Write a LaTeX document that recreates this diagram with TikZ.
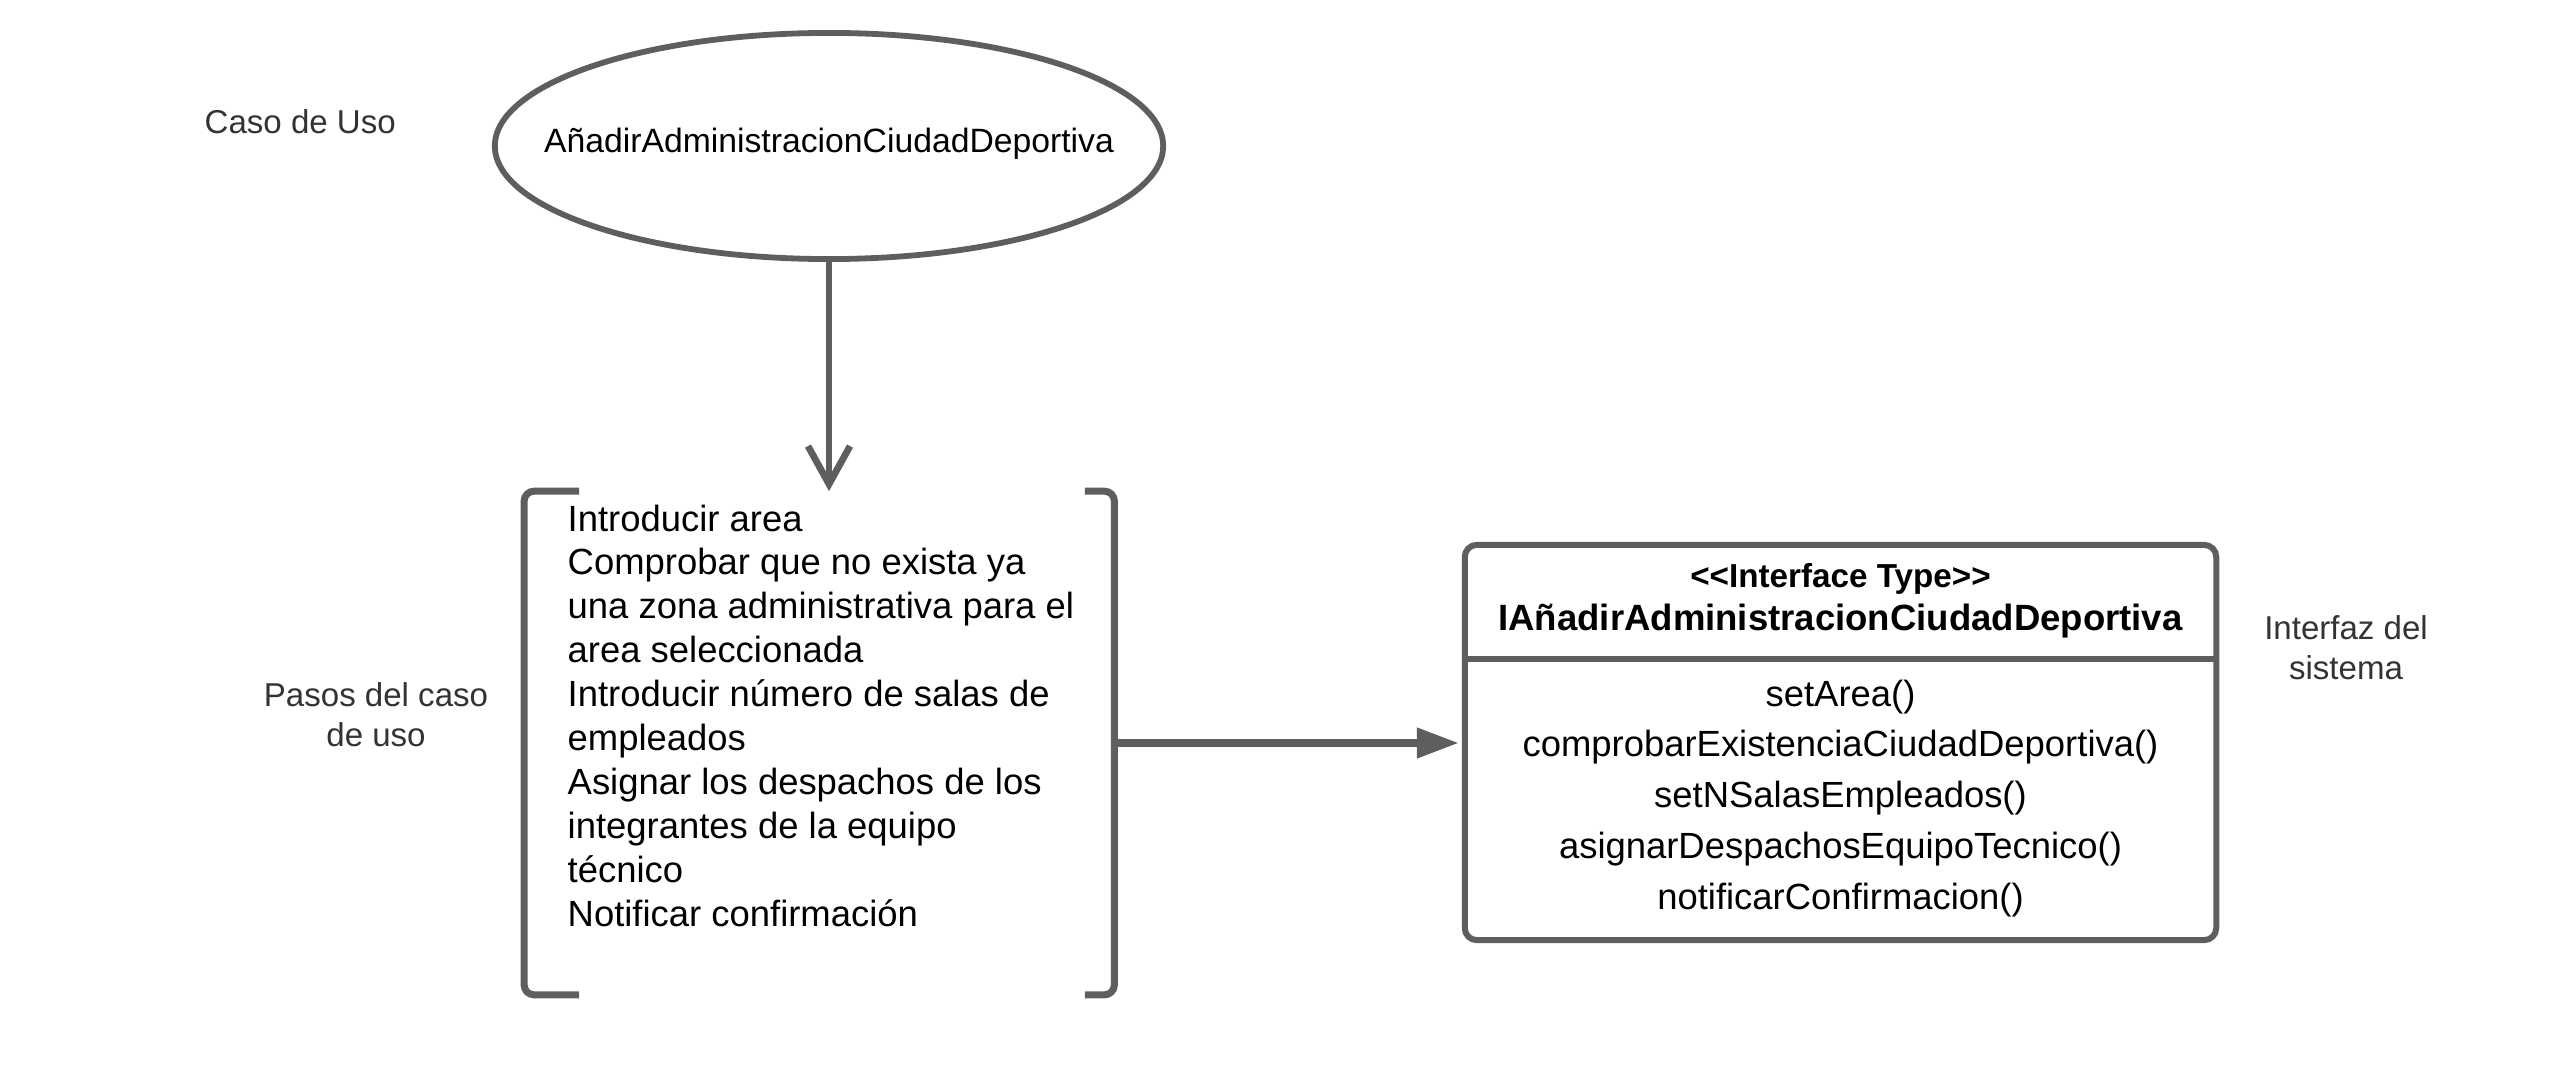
\documentclass[tikz,border=0pt]{standalone}
\usepackage{fontspec}
\setmainfont{Liberation Sans}
\usetikzlibrary{shapes.geometric,arrows.meta}
\definecolor{strk}{HTML}{5E5E5E}
\definecolor{lbl}{HTML}{333333}
\begin{document}
\begin{tikzpicture}[x=0.01cm,y=-0.01cm,
  side/.style={font=\fontsize{9.4pt}{11.3pt}\selectfont, text=lbl, inner sep=0, anchor=base},
  steptxt/.style={font=\fontsize{10.36pt}{12.4pt}\selectfont, inner sep=0, anchor=base west},
  meth/.style={font=\fontsize{10.36pt}{12.4pt}\selectfont, inner sep=0, anchor=base},
  conn/.style={draw=strk, line width=0.068cm},
  bracketline/.style={draw=strk, line width=0.07cm, rounded corners=0.1cm},
  usecase/.style={ellipse, draw=strk, line width=0.058cm, minimum width=6.68cm, minimum height=2.26cm, inner sep=0},
  ifacebox/.style={draw=strk, line width=0.06cm, rounded corners=0.12cm, minimum width=7.51cm, minimum height=3.95cm, inner sep=0}]
\useasboundingbox (0,0) rectangle (2552,1067);

% side labels
\node[side, anchor=base west] (lcaso) at (204,134) {Caso de Uso};
\node[side] (lpasos1) at (376,706) {Pasos del caso};
\node[side] (lpasos2) at (376,746) {de uso};
\node[side] (lint1) at (2346,639) {Interfaz del};
\node[side] (lint2) at (2346,679) {sistema};

% use case
\node[usecase] (uc) at (829,146) {};
\node[inner sep=0, anchor=base, font=\fontsize{9.59pt}{11.5pt}\selectfont] (uctext) at (829,153) {AñadirAdministracionCiudadDeportiva};

% steps bracket
\node[minimum width=5.885cm, minimum height=5.02cm, inner sep=0] (steps) at (819.25,743) {};
\draw[bracketline] ([xshift=0.55cm]steps.north west) -- (steps.north west) -- (steps.south west) -- ([xshift=0.55cm]steps.south west);
\draw[bracketline] ([xshift=-0.295cm]steps.north east) -- (steps.north east) -- (steps.south east) -- ([xshift=-0.295cm]steps.south east);

\node[steptxt] (s1) at (567,531) {Introducir area};
\node[steptxt] (s2) at (567,574.9) {Comprobar que no exista ya};
\node[steptxt] (s3) at (567,618.8) {una zona administrativa para el};
\node[steptxt] (s4) at (567,662.7) {area seleccionada};
\node[steptxt] (s5) at (567,706.6) {Introducir número de salas de};
\node[steptxt] (s6) at (567,750.5) {empleados};
\node[steptxt] (s7) at (567,794.4) {Asignar los despachos de los};
\node[steptxt] (s8) at (567,838.3) {integrantes de la equipo};
\node[steptxt] (s9) at (567,882.2) {técnico};
\node[steptxt] (s10) at (567,926.1) {Notificar confirmación};

% interface
\node[ifacebox] (iface) at (1840.5,742.5) {};
\draw[draw=strk, line width=0.06cm] (iface.west |- 0,658.5) coordinate (dl) -- (iface.east |- 0,658.5) coordinate (dr);
\node[inner sep=0, anchor=base, font=\fontsize{9.45pt}{11.3pt}\selectfont\bfseries] (itype) at (1840.5,587) {<\kern0pt<Interface Type>\kern0pt>};
\node[inner sep=0, anchor=base, font=\fontsize{10.39pt}{12.5pt}\selectfont\bfseries] (iname) at (1840.5,630) {IAñadirAdministracionCiudadDeportiva};
\node[meth] (m1) at (1840.5,706) {setArea()};
\node[meth] (m2) at (1840.5,756.8) {comprobarExistenciaCiudadDeportiva()};
\node[meth] (m3) at (1840.5,807.6) {setNSalasEmpleados()};
\node[meth] (m4) at (1840.5,858.4) {asignarDespachosEquipoTecnico()};
\node[meth] (m5) at (1840.5,909.2) {notificarConfirmacion()};

% connectors
\draw[conn, -{Straight Barb[length=0.38cm,width=0.42cm]}] (uc.south) -- (uc.south |- steps.north);
\draw[conn, line width=0.076cm, shorten >=0.03cm, -{Triangle[length=0.42cm,width=0.29cm]}] (steps.east) -- (iface.west |- steps.east);
\end{tikzpicture}
\end{document}
